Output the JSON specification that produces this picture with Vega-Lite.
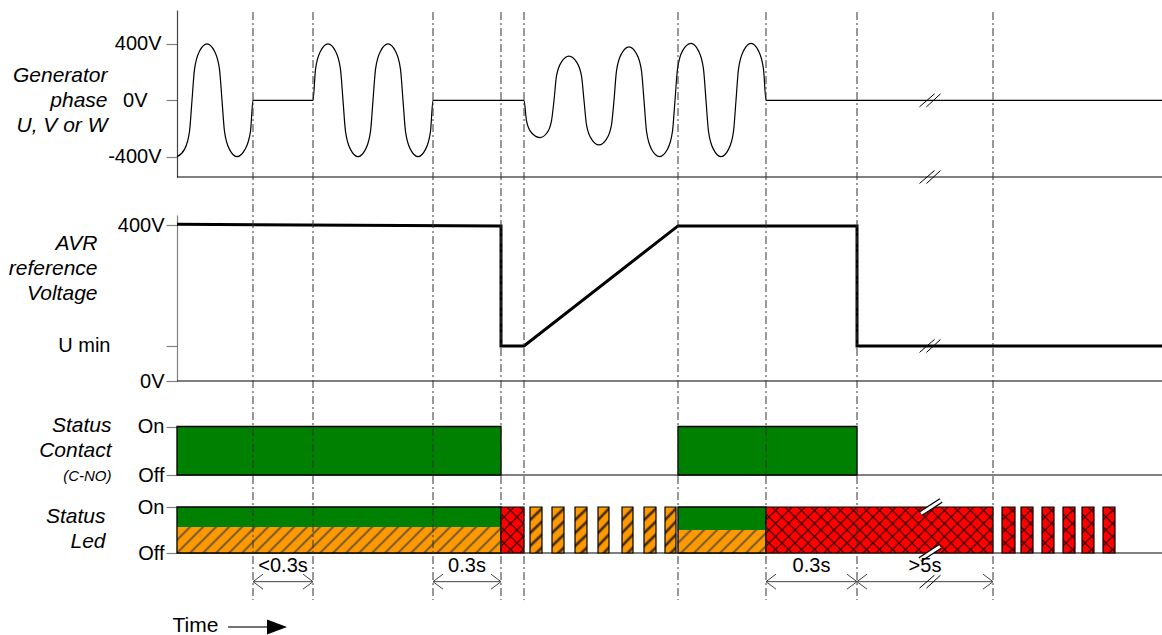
{
  "$schema": "https://vega.github.io/schema/vega-lite/v6.json",
  "width": 985,
  "height": 635,
  "autosize": {"type": "none"},
  "padding": {"left": 177, "top": 0, "right": 0, "bottom": 0},
  "background": "white",
  "config": {
    "view": {"stroke": null},
    "font": "Liberation Sans",
    "axis": {
      "grid": false, "labelColor": "black", "titleColor": "black",
      "labelFontSize": 20, "titleFontSize": 21, "titleFontWeight": "normal", "titleFontStyle": "italic",
      "tickColor": "#808080", "tickSize": 11, "tickWidth": 1.2, "domainColor": "#808080", "domainWidth": 1.2,
      "titleAngle": 0, "titleAlign": "right", "titleBaseline": "middle", "titleLineHeight": 25,
      "labelBaseline": "middle", "labelPadding": 2
    }
  },
  "datasets": {
    "phase": [
      {"t":0,"v":-400},{"t":7.5,"v":-348},{"t":12.5,"v":-220},{"t":15,"v":0},
      {"t":17.5,"v":220},{"t":22.5,"v":348},{"t":30,"v":400},{"t":37.5,"v":348},{"t":42.5,"v":220},{"t":45,"v":0},
      {"t":47.5,"v":-220},{"t":52.5,"v":-348},{"t":60,"v":-400},{"t":68,"v":-348},{"t":73.5,"v":-220},{"t":76,"v":0},
      {"t":136,"v":0},
      {"t":138.5,"v":220},{"t":143.5,"v":348},{"t":151,"v":400},{"t":158.5,"v":348},{"t":163.5,"v":220},{"t":166,"v":0},
      {"t":168.5,"v":-220},{"t":173.5,"v":-348},{"t":181,"v":-400},{"t":188.5,"v":-348},{"t":193.5,"v":-220},{"t":196,"v":0},
      {"t":198.5,"v":220},{"t":203.5,"v":348},{"t":211,"v":400},{"t":218.5,"v":348},{"t":223.5,"v":220},{"t":226,"v":0},
      {"t":228.5,"v":-220},{"t":233.5,"v":-348},{"t":241,"v":-400},{"t":248.5,"v":-348},{"t":253.5,"v":-220},{"t":256,"v":0},
      {"t":347,"v":0},
      {"t":349.5,"v":-145},{"t":354.5,"v":-230},{"t":363,"v":-264},{"t":370,"v":-230},{"t":374.5,"v":-145},{"t":377,"v":0},
      {"t":379.5,"v":173},{"t":384.5,"v":273},{"t":392,"v":314},{"t":399.5,"v":273},{"t":404.5,"v":173},{"t":407,"v":0},
      {"t":409.5,"v":-174},{"t":414.5,"v":-275},{"t":422,"v":-316},{"t":429.5,"v":-275},{"t":434.5,"v":-174},{"t":437,"v":0},
      {"t":439.5,"v":209},{"t":444.5,"v":331},{"t":452,"v":380},{"t":459.5,"v":331},{"t":464.5,"v":209},{"t":467,"v":0},
      {"t":469.5,"v":-219},{"t":474.5,"v":-347},{"t":482.5,"v":-399},{"t":490.5,"v":-347},{"t":495.5,"v":-219},{"t":498,"v":0},
      {"t":500.5,"v":222},{"t":505.5,"v":351},{"t":514,"v":404},{"t":521.5,"v":351},{"t":526.5,"v":222},{"t":529,"v":0},
      {"t":531.5,"v":-220},{"t":536.5,"v":-348},{"t":544,"v":-400},{"t":551.5,"v":-348},{"t":556.5,"v":-220},{"t":559,"v":0},
      {"t":561.5,"v":222},{"t":566.5,"v":351},{"t":574,"v":404},{"t":581.5,"v":351},{"t":586.5,"v":222},{"t":589,"v":0},
      {"t":985,"v":0}
    ],
    "avr": [
      {"t":0,"v":402},{"t":324,"v":398},{"t":324,"v":90},{"t":347,"v":90},
      {"t":501,"v":398},{"t":680,"v":398},{"t":680,"v":90},{"t":985,"v":90}
    ],
    "contact": [{"t0":0,"t1":324},{"t0":501,"t1":680}],
    "led": [
      {"seg":"s1","part":"green","t0":0,"t1":324,"lo":0.565,"hi":1},
      {"seg":"s1","part":"orange","t0":0,"t1":324,"lo":0,"hi":0.565},
      {"seg":"f1","part":"red","t0":324,"t1":347,"lo":0,"hi":1},
      {"seg":"b1","part":"orange blink","t0":353,"t1":365,"lo":0,"hi":1},
      {"seg":"b1","part":"orange blink","t0":375,"t1":387,"lo":0,"hi":1},
      {"seg":"b1","part":"orange blink","t0":398,"t1":410,"lo":0,"hi":1},
      {"seg":"b1","part":"orange blink","t0":421,"t1":432,"lo":0,"hi":1},
      {"seg":"b1","part":"orange blink","t0":445,"t1":456,"lo":0,"hi":1},
      {"seg":"b1","part":"orange blink","t0":467,"t1":479,"lo":0,"hi":1},
      {"seg":"b1","part":"orange blink","t0":488,"t1":499,"lo":0,"hi":1},
      {"seg":"s2","part":"green","t0":501,"t1":589,"lo":0.5,"hi":1},
      {"seg":"s2","part":"orange","t0":501,"t1":589,"lo":0,"hi":0.5},
      {"seg":"f2","part":"red","t0":589,"t1":816,"lo":0,"hi":1},
      {"seg":"b2","part":"red blink","t0":825,"t1":838,"lo":0,"hi":1},
      {"seg":"b2","part":"red blink","t0":844,"t1":856,"lo":0,"hi":1},
      {"seg":"b2","part":"red blink","t0":865,"t1":877,"lo":0,"hi":1},
      {"seg":"b2","part":"red blink","t0":886,"t1":898,"lo":0,"hi":1},
      {"seg":"b2","part":"red blink","t0":905,"t1":917,"lo":0,"hi":1},
      {"seg":"b2","part":"red blink","t0":926,"t1":938,"lo":0,"hi":1}
    ],
    "events": [{"t":76},{"t":136},{"t":256},{"t":324},{"t":347},{"t":501},{"t":589},{"t":680},{"t":816}],
    "dims": [
      {"t0":76,"t1":136,"mid":106,"label":"<0.3s"},
      {"t0":256,"t1":324,"mid":290,"label":"0.3s"},
      {"t0":589,"t1":680,"mid":634.5,"label":"0.3s"},
      {"t0":680,"t1":816,"mid":748,"label":">5s"}
    ]
  },
  "resolve": {"scale": {"y": "independent"}, "axis": {"y": "independent", "x": "independent"}},
  "layer": [
    {
      "data": {"values": [{}]},
      "mark": {"type": "rule", "color": "black", "strokeWidth": 1.2},
      "encoding": {"y": {"datum": -544, "scale": {"domain": [-544, 641], "range": [177, 10], "nice": false, "zero": false},
        "axis": {"orient": "left", "values": [0], "labelExpr": "'0V'", "domain": false, "tickOpacity": 0, "labelPadding": 19, "title": null}}}
    },
    {
      "data": {"name": "phase"},
      "mark": {"type": "line", "interpolate": "monotone", "color": "black", "strokeWidth": 1.2},
      "encoding": {
        "x": {"field": "t", "type": "quantitative", "scale": {"domain": [0, 985], "nice": false, "zero": false},
              "axis": {"orient": "bottom", "title": "Time", "domain": false, "ticks": false, "labels": false, "titleFontStyle": "normal", "titleFontSize": 21, "titleX": 18, "titleY": -10, "titleAlign": "center", "titleBaseline": "middle"}},
        "y": {"field": "v", "type": "quantitative", "scale": {"domain": [-544, 641], "range": [177, 10], "nice": false, "zero": false},
              "axis": {"orient": "left", "values": [-400, 0, 400], "labelPadding": 5, "domainColor": "#444",
                       "labelExpr": "datum.value === 0 ? '' : datum.value + 'V'",
                       "title": ["Generator", "phase", "U, V or W"], "titleX": -70, "titleY": 75}},
        "order": {"value": null}
      }
    },
    {
      "data": {"values": [{"t": 753, "v": 0}, {"t": 753, "v": -544}]},
      "mark": {"type": "point", "shape": "M-1.05,0.65L0.45,-0.65M-0.35,0.65L1.05,-0.65", "size": 400, "filled": false, "color": "black", "strokeWidth": 1, "opacity": 1},
      "encoding": {
        "x": {"field": "t", "type": "quantitative", "scale": {"domain": [0, 985], "nice": false, "zero": false}, "axis": null},
        "y": {"field": "v", "type": "quantitative", "scale": {"domain": [-544, 641], "range": [177, 10], "nice": false, "zero": false}, "axis": null}
      }
    },
    {
      "data": {"values": [{}]},
      "mark": {"type": "rule", "color": "black", "strokeWidth": 1.2},
      "encoding": {"y": {"datum": 0, "scale": {"domain": [0, 426], "range": [381, 215], "nice": false, "zero": false},
        "axis": {"orient": "left", "values": [90], "labelExpr": "'U min'", "domain": false, "tickOpacity": 0, "labelPadding": 56, "title": null}}}
    },
    {
      "data": {"name": "avr"},
      "mark": {"type": "line", "color": "black", "strokeWidth": 3, "strokeJoin": "miter"},
      "encoding": {
        "x": {"field": "t", "type": "quantitative", "scale": {"domain": [0, 985], "nice": false, "zero": false}, "axis": null},
        "y": {"field": "v", "type": "quantitative", "scale": {"domain": [0, 426], "range": [381, 215], "nice": false, "zero": false},
              "axis": {"orient": "left", "values": [0, 90, 400],
                       "labelExpr": "datum.value === 400 ? '400V' : datum.value === 90 ? '' : '0V'",
                       "title": ["AVR", "reference", "Voltage"], "titleX": -80, "titleY": 243}},
        "order": {"value": null}
      }
    },
    {
      "data": {"values": [{"t": 753, "v": 90}]},
      "mark": {"type": "point", "shape": "M-1.05,0.65L0.45,-0.65M-0.35,0.65L1.05,-0.65", "size": 400, "filled": false, "color": "black", "strokeWidth": 1, "opacity": 1},
      "encoding": {
        "x": {"field": "t", "type": "quantitative", "scale": {"domain": [0, 985], "nice": false, "zero": false}, "axis": null},
        "y": {"field": "v", "type": "quantitative", "scale": {"domain": [0, 426], "range": [381, 215], "nice": false, "zero": false}, "axis": null}
      }
    },
    {
      "data": {"values": [{}]},
      "mark": {"type": "rule", "color": "#808080", "strokeWidth": 2},
      "encoding": {"y": {"datum": 0, "scale": {"domain": [0, 1], "range": [475, 426.5], "nice": false, "zero": false},
        "axis": {"orient": "left", "labels": false, "ticks": false, "domain": false, "title": "(C-NO)", "titleFontSize": 15, "titleX": -66, "titleY": 475}}}
    },
    {
      "data": {"name": "contact"},
      "mark": {"type": "rect", "color": "#008000", "stroke": "black", "strokeWidth": 1.3},
      "encoding": {
        "x": {"field": "t0", "type": "quantitative", "scale": {"domain": [0, 985], "nice": false, "zero": false}, "axis": null},
        "x2": {"field": "t1"},
        "y": {"datum": 0, "scale": {"domain": [0, 1], "range": [475, 426.5], "nice": false, "zero": false},
              "axis": {"orient": "left", "values": [0, 1], "labelExpr": "datum.value === 1 ? 'On' : 'Off'",
                       "title": ["Status", "Contact"], "titleX": -66, "titleY": 425}},
        "y2": {"datum": 1}
      }
    },
    {
      "data": {"values": [{}]},
      "mark": {"type": "rule", "color": "#808080", "strokeWidth": 2},
      "encoding": {"y": {"datum": 0, "scale": {"domain": [0, 1], "range": [553, 507], "nice": false, "zero": false},
        "axis": {"orient": "left", "values": [0, 1], "labelExpr": "datum.value === 1 ? 'On' : 'Off'",
                 "title": ["Status", "Led"], "titleX": -72, "titleY": 516}}}
    },
    {
      "data": {"name": "led"},
      "transform": [{"filter": "datum.part === 'green'"}],
      "mark": {"type": "rect", "color": "#008000", "strokeWidth": 0},
      "encoding": {
        "x": {"field": "t0", "type": "quantitative", "scale": {"domain": [0, 985], "nice": false, "zero": false}, "axis": null},
        "x2": {"field": "t1"},
        "y": {"field": "lo", "type": "quantitative", "scale": {"domain": [0, 1], "range": [553, 507], "nice": false, "zero": false}, "axis": null},
        "y2": {"field": "hi"}
      }
    },
    {
      "data": {"name": "led"},
      "transform": [{"filter": "datum.part === 'orange' && datum.seg === 's1'"}],
      "mark": {"type": "rect", "strokeWidth": 0, "fill": {"gradient": "linear", "x1": 0, "y1": 0, "x2": 3.9867, "y2": 0.3199, "stops": [
        {"offset":0,"color":"#FF9900"},
        {"offset":0.008,"color":"#FF9900"},{"offset":0.01,"color":"#6b5535"},{"offset":0.012,"color":"#FF9900"},
        {"offset":0.018,"color":"#FF9900"},{"offset":0.02,"color":"#6b5535"},{"offset":0.022,"color":"#FF9900"},
        {"offset":0.028,"color":"#FF9900"},{"offset":0.03,"color":"#6b5535"},{"offset":0.032,"color":"#FF9900"},
        {"offset":0.038,"color":"#FF9900"},{"offset":0.04,"color":"#6b5535"},{"offset":0.042,"color":"#FF9900"},
        {"offset":0.048,"color":"#FF9900"},{"offset":0.05,"color":"#6b5535"},{"offset":0.052,"color":"#FF9900"},
        {"offset":0.058,"color":"#FF9900"},{"offset":0.06,"color":"#6b5535"},{"offset":0.062,"color":"#FF9900"},
        {"offset":0.068,"color":"#FF9900"},{"offset":0.07,"color":"#6b5535"},{"offset":0.072,"color":"#FF9900"},
        {"offset":0.078,"color":"#FF9900"},{"offset":0.08,"color":"#6b5535"},{"offset":0.082,"color":"#FF9900"},
        {"offset":0.088,"color":"#FF9900"},{"offset":0.09,"color":"#6b5535"},{"offset":0.092,"color":"#FF9900"},
        {"offset":0.098,"color":"#FF9900"},{"offset":0.1,"color":"#6b5535"},{"offset":0.102,"color":"#FF9900"},
        {"offset":0.108,"color":"#FF9900"},{"offset":0.11,"color":"#6b5535"},{"offset":0.112,"color":"#FF9900"},
        {"offset":0.118,"color":"#FF9900"},{"offset":0.12,"color":"#6b5535"},{"offset":0.122,"color":"#FF9900"},
        {"offset":0.128,"color":"#FF9900"},{"offset":0.13,"color":"#6b5535"},{"offset":0.132,"color":"#FF9900"},
        {"offset":0.138,"color":"#FF9900"},{"offset":0.14,"color":"#6b5535"},{"offset":0.142,"color":"#FF9900"},
        {"offset":0.148,"color":"#FF9900"},{"offset":0.15,"color":"#6b5535"},{"offset":0.152,"color":"#FF9900"},
        {"offset":0.158,"color":"#FF9900"},{"offset":0.16,"color":"#6b5535"},{"offset":0.162,"color":"#FF9900"},
        {"offset":0.168,"color":"#FF9900"},{"offset":0.17,"color":"#6b5535"},{"offset":0.172,"color":"#FF9900"},
        {"offset":0.178,"color":"#FF9900"},{"offset":0.18,"color":"#6b5535"},{"offset":0.182,"color":"#FF9900"},
        {"offset":0.188,"color":"#FF9900"},{"offset":0.19,"color":"#6b5535"},{"offset":0.192,"color":"#FF9900"},
        {"offset":0.198,"color":"#FF9900"},{"offset":0.2,"color":"#6b5535"},{"offset":0.202,"color":"#FF9900"},
        {"offset":0.208,"color":"#FF9900"},{"offset":0.21,"color":"#6b5535"},{"offset":0.212,"color":"#FF9900"},
        {"offset":0.218,"color":"#FF9900"},{"offset":0.22,"color":"#6b5535"},{"offset":0.222,"color":"#FF9900"},
        {"offset":0.228,"color":"#FF9900"},{"offset":0.23,"color":"#6b5535"},{"offset":0.232,"color":"#FF9900"},
        {"offset":0.238,"color":"#FF9900"},{"offset":0.24,"color":"#6b5535"},{"offset":0.242,"color":"#FF9900"},
        {"offset":0.248,"color":"#FF9900"},{"offset":0.25,"color":"#6b5535"},{"offset":0.252,"color":"#FF9900"},
        {"offset":0.258,"color":"#FF9900"},{"offset":0.26,"color":"#6b5535"},{"offset":0.262,"color":"#FF9900"},
        {"offset":1,"color":"#FF9900"}]}},
      "encoding": {
        "x": {"field": "t0", "type": "quantitative", "scale": {"domain": [0, 985], "nice": false, "zero": false}, "axis": null},
        "x2": {"field": "t1"},
        "y": {"field": "lo", "type": "quantitative", "scale": {"domain": [0, 1], "range": [553, 507], "nice": false, "zero": false}, "axis": null},
        "y2": {"field": "hi"}
      }
    },
    {
      "data": {"name": "led"},
      "transform": [{"filter": "datum.part === 'orange' && datum.seg === 's2'"}],
      "mark": {"type": "rect", "strokeWidth": 0, "fill": {"gradient": "linear", "x1": 0, "y1": 0, "x2": 13.828, "y2": 3.6142, "stops": [
        {"offset":0,"color":"#FF9900"},
        {"offset":0.008,"color":"#FF9900"},{"offset":0.01,"color":"#6b5535"},{"offset":0.012,"color":"#FF9900"},
        {"offset":0.018,"color":"#FF9900"},{"offset":0.02,"color":"#6b5535"},{"offset":0.022,"color":"#FF9900"},
        {"offset":0.028,"color":"#FF9900"},{"offset":0.03,"color":"#6b5535"},{"offset":0.032,"color":"#FF9900"},
        {"offset":0.038,"color":"#FF9900"},{"offset":0.04,"color":"#6b5535"},{"offset":0.042,"color":"#FF9900"},
        {"offset":0.048,"color":"#FF9900"},{"offset":0.05,"color":"#6b5535"},{"offset":0.052,"color":"#FF9900"},
        {"offset":0.058,"color":"#FF9900"},{"offset":0.06,"color":"#6b5535"},{"offset":0.062,"color":"#FF9900"},
        {"offset":0.068,"color":"#FF9900"},{"offset":0.07,"color":"#6b5535"},{"offset":0.072,"color":"#FF9900"},
        {"offset":0.078,"color":"#FF9900"},{"offset":0.08,"color":"#6b5535"},{"offset":0.082,"color":"#FF9900"},
        {"offset":1,"color":"#FF9900"}]}},
      "encoding": {
        "x": {"field": "t0", "type": "quantitative", "scale": {"domain": [0, 985], "nice": false, "zero": false}, "axis": null},
        "x2": {"field": "t1"},
        "y": {"field": "lo", "type": "quantitative", "scale": {"domain": [0, 1], "range": [553, 507], "nice": false, "zero": false}, "axis": null},
        "y2": {"field": "hi"}
      }
    },
    {
      "data": {"name": "led"},
      "transform": [{"filter": "datum.part === 'green'"}],
      "mark": {"type": "rect", "fill": null, "fillOpacity": 0, "stroke": "black", "strokeWidth": 1.3},
      "encoding": {
        "x": {"field": "t0", "type": "quantitative", "scale": {"domain": [0, 985], "nice": false, "zero": false}, "axis": null},
        "x2": {"field": "t1"},
        "y": {"datum": 0, "scale": {"domain": [0, 1], "range": [553, 507], "nice": false, "zero": false}, "axis": null},
        "y2": {"datum": 1}
      }
    },
    {
      "data": {"name": "led"},
      "transform": [{"filter": "datum.part === 'orange blink'"}],
      "mark": {"type": "rect", "stroke": "black", "strokeWidth": 1.2, "fill": {"gradient": "linear", "x1": 0, "y1": 0, "x2": 6.6496, "y2": 26.598, "stops": [
        {"offset":0,"color":"#FF9900"},
        {"offset":0.0075,"color":"#FF9900"},{"offset":0.01,"color":"#2b1d05"},{"offset":0.0125,"color":"#FF9900"},
        {"offset":0.0175,"color":"#FF9900"},{"offset":0.02,"color":"#2b1d05"},{"offset":0.0225,"color":"#FF9900"},
        {"offset":0.0275,"color":"#FF9900"},{"offset":0.03,"color":"#2b1d05"},{"offset":0.0325,"color":"#FF9900"},
        {"offset":0.0375,"color":"#FF9900"},{"offset":0.04,"color":"#2b1d05"},{"offset":0.0425,"color":"#FF9900"},
        {"offset":1,"color":"#FF9900"}]}},
      "encoding": {
        "x": {"field": "t0", "type": "quantitative", "scale": {"domain": [0, 985], "nice": false, "zero": false}, "axis": null},
        "x2": {"field": "t1"},
        "y": {"field": "lo", "type": "quantitative", "scale": {"domain": [0, 1], "range": [553, 507], "nice": false, "zero": false}, "axis": null},
        "y2": {"field": "hi"}
      }
    },
    {
      "data": {"name": "led"},
      "transform": [{"filter": "datum.part === 'red' || datum.part === 'red blink'"}],
      "mark": {"type": "rect", "color": "#FF0000", "stroke": "black", "strokeWidth": 1.2},
      "encoding": {
        "x": {"field": "t0", "type": "quantitative", "scale": {"domain": [0, 985], "nice": false, "zero": false}, "axis": null},
        "x2": {"field": "t1"},
        "y": {"field": "lo", "type": "quantitative", "scale": {"domain": [0, 1], "range": [553, 507], "nice": false, "zero": false}, "axis": null},
        "y2": {"field": "hi"}
      }
    },
    {
      "data": {"name": "led"},
      "transform": [{"filter": "datum.seg === 'f1'"}],
      "mark": {"type": "rect", "strokeWidth": 0, "fill": {"gradient": "linear", "x1": 0, "y1": 0, "x2": 11.304, "y2": 22.609, "stops": [
        {"offset":0,"color":"rgba(40,0,0,0)"},
        {"offset":0.0085,"color":"rgba(40,0,0,0)"},{"offset":0.01,"color":"rgba(40,0,0,0.8)"},{"offset":0.0115,"color":"rgba(40,0,0,0)"},
        {"offset":0.0185,"color":"rgba(40,0,0,0)"},{"offset":0.02,"color":"rgba(40,0,0,0.8)"},{"offset":0.0215,"color":"rgba(40,0,0,0)"},
        {"offset":0.0285,"color":"rgba(40,0,0,0)"},{"offset":0.03,"color":"rgba(40,0,0,0.8)"},{"offset":0.0315,"color":"rgba(40,0,0,0)"},
        {"offset":0.0385,"color":"rgba(40,0,0,0)"},{"offset":0.04,"color":"rgba(40,0,0,0.8)"},{"offset":0.0415,"color":"rgba(40,0,0,0)"},
        {"offset":0.0485,"color":"rgba(40,0,0,0)"},{"offset":0.05,"color":"rgba(40,0,0,0.8)"},{"offset":0.0515,"color":"rgba(40,0,0,0)"},
        {"offset":1,"color":"rgba(40,0,0,0)"}]}},
      "encoding": {
        "x": {"field": "t0", "type": "quantitative", "scale": {"domain": [0, 985], "nice": false, "zero": false}, "axis": null},
        "x2": {"field": "t1"},
        "y": {"field": "lo", "type": "quantitative", "scale": {"domain": [0, 1], "range": [553, 507], "nice": false, "zero": false}, "axis": null},
        "y2": {"field": "hi"}
      }
    },
    {
      "data": {"name": "led"},
      "transform": [{"filter": "datum.seg === 'f1'"}],
      "mark": {"type": "rect", "strokeWidth": 0, "fill": {"gradient": "linear", "x1": 0, "y1": 1, "x2": 11.304, "y2": -21.609, "stops": [
        {"offset":0,"color":"rgba(40,0,0,0)"},
        {"offset":0.0085,"color":"rgba(40,0,0,0)"},{"offset":0.01,"color":"rgba(40,0,0,0.8)"},{"offset":0.0115,"color":"rgba(40,0,0,0)"},
        {"offset":0.0185,"color":"rgba(40,0,0,0)"},{"offset":0.02,"color":"rgba(40,0,0,0.8)"},{"offset":0.0215,"color":"rgba(40,0,0,0)"},
        {"offset":0.0285,"color":"rgba(40,0,0,0)"},{"offset":0.03,"color":"rgba(40,0,0,0.8)"},{"offset":0.0315,"color":"rgba(40,0,0,0)"},
        {"offset":0.0385,"color":"rgba(40,0,0,0)"},{"offset":0.04,"color":"rgba(40,0,0,0.8)"},{"offset":0.0415,"color":"rgba(40,0,0,0)"},
        {"offset":0.0485,"color":"rgba(40,0,0,0)"},{"offset":0.05,"color":"rgba(40,0,0,0.8)"},{"offset":0.0515,"color":"rgba(40,0,0,0)"},
        {"offset":1,"color":"rgba(40,0,0,0)"}]}},
      "encoding": {
        "x": {"field": "t0", "type": "quantitative", "scale": {"domain": [0, 985], "nice": false, "zero": false}, "axis": null},
        "x2": {"field": "t1"},
        "y": {"field": "lo", "type": "quantitative", "scale": {"domain": [0, 1], "range": [553, 507], "nice": false, "zero": false}, "axis": null},
        "y2": {"field": "hi"}
      }
    },
    {
      "data": {"name": "led"},
      "transform": [{"filter": "datum.seg === 'f2'"}],
      "mark": {"type": "rect", "strokeWidth": 0, "fill": {"gradient": "linear", "x1": 0, "y1": 0, "x2": 5.501, "y2": 1.1147, "stops": [
        {"offset":0,"color":"rgba(40,0,0,0)"},
        {"offset":0.0085,"color":"rgba(40,0,0,0)"},{"offset":0.01,"color":"rgba(40,0,0,0.8)"},{"offset":0.0115,"color":"rgba(40,0,0,0)"},
        {"offset":0.0185,"color":"rgba(40,0,0,0)"},{"offset":0.02,"color":"rgba(40,0,0,0.8)"},{"offset":0.0215,"color":"rgba(40,0,0,0)"},
        {"offset":0.0285,"color":"rgba(40,0,0,0)"},{"offset":0.03,"color":"rgba(40,0,0,0.8)"},{"offset":0.0315,"color":"rgba(40,0,0,0)"},
        {"offset":0.0385,"color":"rgba(40,0,0,0)"},{"offset":0.04,"color":"rgba(40,0,0,0.8)"},{"offset":0.0415,"color":"rgba(40,0,0,0)"},
        {"offset":0.0485,"color":"rgba(40,0,0,0)"},{"offset":0.05,"color":"rgba(40,0,0,0.8)"},{"offset":0.0515,"color":"rgba(40,0,0,0)"},
        {"offset":0.0585,"color":"rgba(40,0,0,0)"},{"offset":0.06,"color":"rgba(40,0,0,0.8)"},{"offset":0.0615,"color":"rgba(40,0,0,0)"},
        {"offset":0.0685,"color":"rgba(40,0,0,0)"},{"offset":0.07,"color":"rgba(40,0,0,0.8)"},{"offset":0.0715,"color":"rgba(40,0,0,0)"},
        {"offset":0.0785,"color":"rgba(40,0,0,0)"},{"offset":0.08,"color":"rgba(40,0,0,0.8)"},{"offset":0.0815,"color":"rgba(40,0,0,0)"},
        {"offset":0.0885,"color":"rgba(40,0,0,0)"},{"offset":0.09,"color":"rgba(40,0,0,0.8)"},{"offset":0.0915,"color":"rgba(40,0,0,0)"},
        {"offset":0.0985,"color":"rgba(40,0,0,0)"},{"offset":0.1,"color":"rgba(40,0,0,0.8)"},{"offset":0.1015,"color":"rgba(40,0,0,0)"},
        {"offset":0.1085,"color":"rgba(40,0,0,0)"},{"offset":0.11,"color":"rgba(40,0,0,0.8)"},{"offset":0.1115,"color":"rgba(40,0,0,0)"},
        {"offset":0.1185,"color":"rgba(40,0,0,0)"},{"offset":0.12,"color":"rgba(40,0,0,0.8)"},{"offset":0.1215,"color":"rgba(40,0,0,0)"},
        {"offset":0.1285,"color":"rgba(40,0,0,0)"},{"offset":0.13,"color":"rgba(40,0,0,0.8)"},{"offset":0.1315,"color":"rgba(40,0,0,0)"},
        {"offset":0.1385,"color":"rgba(40,0,0,0)"},{"offset":0.14,"color":"rgba(40,0,0,0.8)"},{"offset":0.1415,"color":"rgba(40,0,0,0)"},
        {"offset":0.1485,"color":"rgba(40,0,0,0)"},{"offset":0.15,"color":"rgba(40,0,0,0.8)"},{"offset":0.1515,"color":"rgba(40,0,0,0)"},
        {"offset":0.1585,"color":"rgba(40,0,0,0)"},{"offset":0.16,"color":"rgba(40,0,0,0.8)"},{"offset":0.1615,"color":"rgba(40,0,0,0)"},
        {"offset":0.1685,"color":"rgba(40,0,0,0)"},{"offset":0.17,"color":"rgba(40,0,0,0.8)"},{"offset":0.1715,"color":"rgba(40,0,0,0)"},
        {"offset":0.1785,"color":"rgba(40,0,0,0)"},{"offset":0.18,"color":"rgba(40,0,0,0.8)"},{"offset":0.1815,"color":"rgba(40,0,0,0)"},
        {"offset":0.1885,"color":"rgba(40,0,0,0)"},{"offset":0.19,"color":"rgba(40,0,0,0.8)"},{"offset":0.1915,"color":"rgba(40,0,0,0)"},
        {"offset":0.1985,"color":"rgba(40,0,0,0)"},{"offset":0.2,"color":"rgba(40,0,0,0.8)"},{"offset":0.2015,"color":"rgba(40,0,0,0)"},
        {"offset":1,"color":"rgba(40,0,0,0)"}]}},
      "encoding": {
        "x": {"field": "t0", "type": "quantitative", "scale": {"domain": [0, 985], "nice": false, "zero": false}, "axis": null},
        "x2": {"field": "t1"},
        "y": {"field": "lo", "type": "quantitative", "scale": {"domain": [0, 1], "range": [553, 507], "nice": false, "zero": false}, "axis": null},
        "y2": {"field": "hi"}
      }
    },
    {
      "data": {"name": "led"},
      "transform": [{"filter": "datum.seg === 'f2'"}],
      "mark": {"type": "rect", "strokeWidth": 0, "fill": {"gradient": "linear", "x1": 0, "y1": 1, "x2": 5.501, "y2": -0.1147, "stops": [
        {"offset":0,"color":"rgba(40,0,0,0)"},
        {"offset":0.0085,"color":"rgba(40,0,0,0)"},{"offset":0.01,"color":"rgba(40,0,0,0.8)"},{"offset":0.0115,"color":"rgba(40,0,0,0)"},
        {"offset":0.0185,"color":"rgba(40,0,0,0)"},{"offset":0.02,"color":"rgba(40,0,0,0.8)"},{"offset":0.0215,"color":"rgba(40,0,0,0)"},
        {"offset":0.0285,"color":"rgba(40,0,0,0)"},{"offset":0.03,"color":"rgba(40,0,0,0.8)"},{"offset":0.0315,"color":"rgba(40,0,0,0)"},
        {"offset":0.0385,"color":"rgba(40,0,0,0)"},{"offset":0.04,"color":"rgba(40,0,0,0.8)"},{"offset":0.0415,"color":"rgba(40,0,0,0)"},
        {"offset":0.0485,"color":"rgba(40,0,0,0)"},{"offset":0.05,"color":"rgba(40,0,0,0.8)"},{"offset":0.0515,"color":"rgba(40,0,0,0)"},
        {"offset":0.0585,"color":"rgba(40,0,0,0)"},{"offset":0.06,"color":"rgba(40,0,0,0.8)"},{"offset":0.0615,"color":"rgba(40,0,0,0)"},
        {"offset":0.0685,"color":"rgba(40,0,0,0)"},{"offset":0.07,"color":"rgba(40,0,0,0.8)"},{"offset":0.0715,"color":"rgba(40,0,0,0)"},
        {"offset":0.0785,"color":"rgba(40,0,0,0)"},{"offset":0.08,"color":"rgba(40,0,0,0.8)"},{"offset":0.0815,"color":"rgba(40,0,0,0)"},
        {"offset":0.0885,"color":"rgba(40,0,0,0)"},{"offset":0.09,"color":"rgba(40,0,0,0.8)"},{"offset":0.0915,"color":"rgba(40,0,0,0)"},
        {"offset":0.0985,"color":"rgba(40,0,0,0)"},{"offset":0.1,"color":"rgba(40,0,0,0.8)"},{"offset":0.1015,"color":"rgba(40,0,0,0)"},
        {"offset":0.1085,"color":"rgba(40,0,0,0)"},{"offset":0.11,"color":"rgba(40,0,0,0.8)"},{"offset":0.1115,"color":"rgba(40,0,0,0)"},
        {"offset":0.1185,"color":"rgba(40,0,0,0)"},{"offset":0.12,"color":"rgba(40,0,0,0.8)"},{"offset":0.1215,"color":"rgba(40,0,0,0)"},
        {"offset":0.1285,"color":"rgba(40,0,0,0)"},{"offset":0.13,"color":"rgba(40,0,0,0.8)"},{"offset":0.1315,"color":"rgba(40,0,0,0)"},
        {"offset":0.1385,"color":"rgba(40,0,0,0)"},{"offset":0.14,"color":"rgba(40,0,0,0.8)"},{"offset":0.1415,"color":"rgba(40,0,0,0)"},
        {"offset":0.1485,"color":"rgba(40,0,0,0)"},{"offset":0.15,"color":"rgba(40,0,0,0.8)"},{"offset":0.1515,"color":"rgba(40,0,0,0)"},
        {"offset":0.1585,"color":"rgba(40,0,0,0)"},{"offset":0.16,"color":"rgba(40,0,0,0.8)"},{"offset":0.1615,"color":"rgba(40,0,0,0)"},
        {"offset":0.1685,"color":"rgba(40,0,0,0)"},{"offset":0.17,"color":"rgba(40,0,0,0.8)"},{"offset":0.1715,"color":"rgba(40,0,0,0)"},
        {"offset":0.1785,"color":"rgba(40,0,0,0)"},{"offset":0.18,"color":"rgba(40,0,0,0.8)"},{"offset":0.1815,"color":"rgba(40,0,0,0)"},
        {"offset":0.1885,"color":"rgba(40,0,0,0)"},{"offset":0.19,"color":"rgba(40,0,0,0.8)"},{"offset":0.1915,"color":"rgba(40,0,0,0)"},
        {"offset":0.1985,"color":"rgba(40,0,0,0)"},{"offset":0.2,"color":"rgba(40,0,0,0.8)"},{"offset":0.2015,"color":"rgba(40,0,0,0)"},
        {"offset":1,"color":"rgba(40,0,0,0)"}]}},
      "encoding": {
        "x": {"field": "t0", "type": "quantitative", "scale": {"domain": [0, 985], "nice": false, "zero": false}, "axis": null},
        "x2": {"field": "t1"},
        "y": {"field": "lo", "type": "quantitative", "scale": {"domain": [0, 1], "range": [553, 507], "nice": false, "zero": false}, "axis": null},
        "y2": {"field": "hi"}
      }
    },
    {
      "data": {"name": "led"},
      "transform": [{"filter": "datum.part === 'red blink'"}],
      "mark": {"type": "rect", "strokeWidth": 0, "fill": {"gradient": "linear", "x1": 0, "y1": 0, "x2": 6.903, "y2": 26.46, "stops": [
        {"offset":0,"color":"rgba(40,0,0,0)"},
        {"offset":0.0085,"color":"rgba(40,0,0,0)"},{"offset":0.01,"color":"rgba(40,0,0,0.8)"},{"offset":0.0115,"color":"rgba(40,0,0,0)"},
        {"offset":0.0185,"color":"rgba(40,0,0,0)"},{"offset":0.02,"color":"rgba(40,0,0,0.8)"},{"offset":0.0215,"color":"rgba(40,0,0,0)"},
        {"offset":0.0285,"color":"rgba(40,0,0,0)"},{"offset":0.03,"color":"rgba(40,0,0,0.8)"},{"offset":0.0315,"color":"rgba(40,0,0,0)"},
        {"offset":0.0385,"color":"rgba(40,0,0,0)"},{"offset":0.04,"color":"rgba(40,0,0,0.8)"},{"offset":0.0415,"color":"rgba(40,0,0,0)"},
        {"offset":1,"color":"rgba(40,0,0,0)"}]}},
      "encoding": {
        "x": {"field": "t0", "type": "quantitative", "scale": {"domain": [0, 985], "nice": false, "zero": false}, "axis": null},
        "x2": {"field": "t1"},
        "y": {"field": "lo", "type": "quantitative", "scale": {"domain": [0, 1], "range": [553, 507], "nice": false, "zero": false}, "axis": null},
        "y2": {"field": "hi"}
      }
    },
    {
      "data": {"name": "led"},
      "transform": [{"filter": "datum.part === 'red blink'"}],
      "mark": {"type": "rect", "strokeWidth": 0, "fill": {"gradient": "linear", "x1": 0, "y1": 1, "x2": 6.903, "y2": -25.46, "stops": [
        {"offset":0,"color":"rgba(40,0,0,0)"},
        {"offset":0.0085,"color":"rgba(40,0,0,0)"},{"offset":0.01,"color":"rgba(40,0,0,0.8)"},{"offset":0.0115,"color":"rgba(40,0,0,0)"},
        {"offset":0.0185,"color":"rgba(40,0,0,0)"},{"offset":0.02,"color":"rgba(40,0,0,0.8)"},{"offset":0.0215,"color":"rgba(40,0,0,0)"},
        {"offset":0.0285,"color":"rgba(40,0,0,0)"},{"offset":0.03,"color":"rgba(40,0,0,0.8)"},{"offset":0.0315,"color":"rgba(40,0,0,0)"},
        {"offset":0.0385,"color":"rgba(40,0,0,0)"},{"offset":0.04,"color":"rgba(40,0,0,0.8)"},{"offset":0.0415,"color":"rgba(40,0,0,0)"},
        {"offset":1,"color":"rgba(40,0,0,0)"}]}},
      "encoding": {
        "x": {"field": "t0", "type": "quantitative", "scale": {"domain": [0, 985], "nice": false, "zero": false}, "axis": null},
        "x2": {"field": "t1"},
        "y": {"field": "lo", "type": "quantitative", "scale": {"domain": [0, 1], "range": [553, 507], "nice": false, "zero": false}, "axis": null},
        "y2": {"field": "hi"}
      }
    },
    {
      "data": {"values": [{"t": 754, "v": 1}, {"t": 753, "v": 0}]},
      "mark": {"type": "point", "shape": "M-1,0.65L1,-0.65", "size": 400, "filled": false, "color": "black", "strokeWidth": 5.5, "opacity": 1},
      "encoding": {
        "x": {"field": "t", "type": "quantitative", "scale": {"domain": [0, 985], "nice": false, "zero": false}, "axis": null},
        "y": {"field": "v", "type": "quantitative", "scale": {"domain": [0, 1], "range": [553, 507], "nice": false, "zero": false}, "axis": null}
      }
    },
    {
      "data": {"values": [{"t": 754, "v": 1}, {"t": 753, "v": 0}]},
      "mark": {"type": "point", "shape": "M-1,0.65L1,-0.65", "size": 400, "filled": false, "color": "white", "strokeWidth": 3, "opacity": 1},
      "encoding": {
        "x": {"field": "t", "type": "quantitative", "scale": {"domain": [0, 985], "nice": false, "zero": false}, "axis": null},
        "y": {"field": "v", "type": "quantitative", "scale": {"domain": [0, 1], "range": [553, 507], "nice": false, "zero": false}, "axis": null}
      }
    },
    {
      "data": {"name": "dims"},
      "mark": {"type": "rule", "color": "#444", "strokeWidth": 1},
      "encoding": {
        "x": {"field": "t0", "type": "quantitative", "scale": {"domain": [0, 985], "nice": false, "zero": false}, "axis": null},
        "x2": {"field": "t1"},
        "y": {"datum": 91.6, "scale": {"domain": [0, 100], "range": [0, 635], "nice": false, "zero": false}, "axis": null}
      }
    },
    {
      "data": {"name": "dims"},
      "mark": {"type": "point", "shape": "M1,-0.75L0,0L1,0.75", "size": 400, "filled": false, "color": "#444", "strokeWidth": 1, "opacity": 1},
      "encoding": {
        "x": {"field": "t0", "type": "quantitative", "scale": {"domain": [0, 985], "nice": false, "zero": false}, "axis": null},
        "y": {"datum": 91.6, "scale": {"domain": [0, 100], "range": [0, 635], "nice": false, "zero": false}, "axis": null}
      }
    },
    {
      "data": {"name": "dims"},
      "mark": {"type": "point", "shape": "M-1,-0.75L0,0L-1,0.75", "size": 400, "filled": false, "color": "#444", "strokeWidth": 1, "opacity": 1},
      "encoding": {
        "x": {"field": "t1", "type": "quantitative", "scale": {"domain": [0, 985], "nice": false, "zero": false}, "axis": null},
        "y": {"datum": 91.6, "scale": {"domain": [0, 100], "range": [0, 635], "nice": false, "zero": false}, "axis": null}
      }
    },
    {
      "data": {"name": "dims"},
      "mark": {"type": "text", "fontSize": 20, "align": "center", "baseline": "middle", "color": "black"},
      "encoding": {
        "x": {"field": "mid", "type": "quantitative", "scale": {"domain": [0, 985], "nice": false, "zero": false}, "axis": null},
        "y": {"datum": 89.1, "scale": {"domain": [0, 100], "range": [0, 635], "nice": false, "zero": false}, "axis": null},
        "text": {"field": "label"}
      }
    },
    {
      "data": {"values": [{"t": 753}]},
      "mark": {"type": "point", "shape": "M-1.05,0.65L0.45,-0.65M-0.35,0.65L1.05,-0.65", "size": 400, "filled": false, "color": "black", "strokeWidth": 1, "opacity": 1},
      "encoding": {
        "x": {"field": "t", "type": "quantitative", "scale": {"domain": [0, 985], "nice": false, "zero": false}, "axis": null},
        "y": {"datum": 91.6, "scale": {"domain": [0, 100], "range": [0, 635], "nice": false, "zero": false}, "axis": null}
      }
    },
    {
      "data": {"values": [{}]},
      "mark": {"type": "rule", "color": "#444", "strokeWidth": 1.5},
      "encoding": {
        "x": {"datum": 51, "type": "quantitative", "scale": {"domain": [0, 985], "nice": false, "zero": false}, "axis": null},
        "x2": {"datum": 92},
        "y": {"datum": 98.75, "scale": {"domain": [0, 100], "range": [0, 635], "nice": false, "zero": false}, "axis": null}
      }
    },
    {
      "data": {"values": [{}]},
      "mark": {"type": "point", "shape": "M-1,-0.75L1,0L-1,0.75Z", "size": 400, "filled": true, "color": "black", "opacity": 1},
      "encoding": {
        "x": {"datum": 100, "type": "quantitative", "scale": {"domain": [0, 985], "nice": false, "zero": false}, "axis": null},
        "y": {"datum": 98.75, "scale": {"domain": [0, 100], "range": [0, 635], "nice": false, "zero": false}, "axis": null}
      }
    },
    {
      "data": {"name": "events"},
      "mark": {"type": "rule", "color": "#333", "strokeWidth": 1, "strokeDash": [8, 3, 2, 3]},
      "encoding": {
        "x": {"field": "t", "type": "quantitative", "scale": {"domain": [0, 985], "nice": false, "zero": false}, "axis": null},
        "y": {"datum": 1.9, "scale": {"domain": [0, 100], "range": [0, 635], "nice": false, "zero": false}, "axis": null},
        "y2": {"datum": 94.5}
      }
    }
  ]
}
